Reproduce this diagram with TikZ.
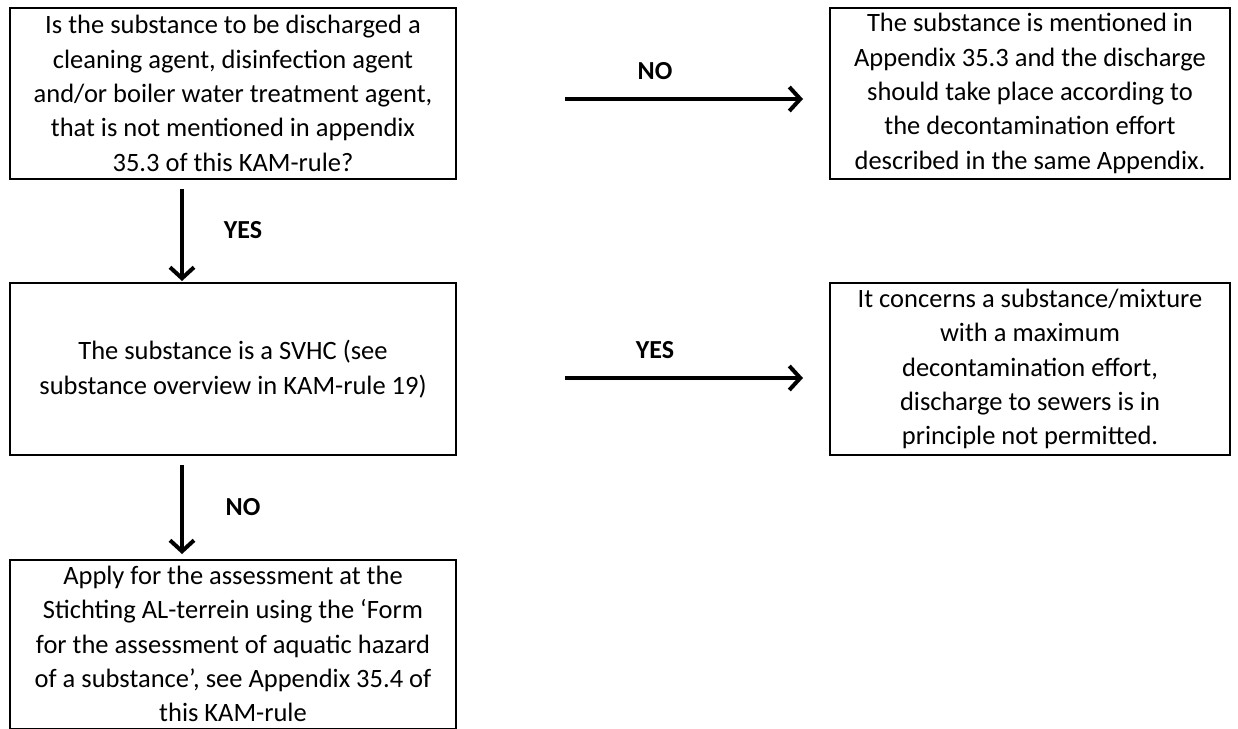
\documentclass[tikz,border=0pt]{standalone}
\usepackage{fontspec}
\setmainfont{Carlito}
\usetikzlibrary{arrows.meta,shadows}
\begin{document}
\begin{tikzpicture}[x=1pt,y=-1pt,
  box/.style={draw=black,line width=2pt,rectangle,align=center,inner sep=0pt,
    font=\fontsize{26.5}{34.3}\selectfont},
  arr/.style={line width=4pt,-{Straight Barb[length=11pt,width=24pt,line width=4pt]},
    drop shadow={shadow xshift=1.5pt,shadow yshift=-2.5pt,opacity=0.25}},
  lbl/.style={font=\fontsize{26}{30}\selectfont\bfseries}]
\useasboundingbox (0,0) rectangle (1238,728);
\node[box,minimum width=446pt,minimum height=171pt] (q1) at (233,93.5)
  {Is the substance to be discharged a\\ cleaning agent, disinfection agent\\ and/or boiler water treatment agent,\\ that is not mentioned in appendix\\ 35.3 of this KAM-rule?};
\node[box,minimum width=400pt,minimum height=171pt] (r1) at (1030,93.5)
  {The substance is mentioned in\\ Appendix 35.3 and the discharge\\ should take place according to\\ the decontamination effort\\ described in the same Appendix.};
\node[box,minimum width=446pt,minimum height=172pt] (q2) at (233,369)
  {The substance is a SVHC (see\\ substance overview in KAM-rule 19)};
\node[box,minimum width=400pt,minimum height=172pt] (r2) at (1030,369)
  {It concerns a substance/mixture\\ with a maximum\\ decontamination effort,\\ discharge to sewers is in\\ principle not permitted.};
\node[box,minimum width=446pt,minimum height=169pt] (a1) at (233,644)
  {Apply for the assessment at the\\ Stichting AL-terrein using the ‘Form\\ for the assessment of aquatic hazard\\ of a substance’, see Appendix 35.4 of\\ this KAM-rule};
\coordinate (h1s) at (565,99);
\coordinate (h1e) at (803,99);
\coordinate (h2s) at (565,378);
\coordinate (h2e) at (803,378);
\coordinate (v1s) at (182,189);
\coordinate (v1e) at (182,281);
\coordinate (v2s) at (182,465);
\coordinate (v2e) at (182,554);
\draw[arr] (h1s) -- (h1e);
\draw[arr] (h2s) -- (h2e);
\draw[arr] (v1s) -- (v1e);
\draw[arr] (v2s) -- (v2e);
\node[lbl] (l1) at (655,71) {NO};
\node[lbl] (l2) at (655,350) {YES};
\node[lbl] (l3) at (243,230) {YES};
\node[lbl] (l4) at (243,507) {NO};
\end{tikzpicture}
\end{document}
